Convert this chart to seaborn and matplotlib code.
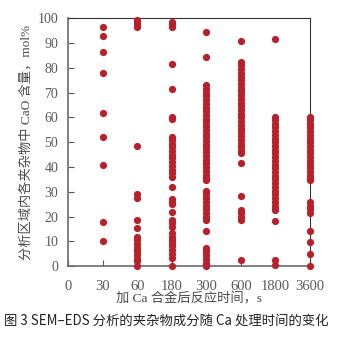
import matplotlib
matplotlib.use("Agg")
import matplotlib.pyplot as plt
import seaborn as sns
import pandas as pd

# CaO content (mol%) of individual inclusions at each reaction time
times = ["0", "30", "60", "180", "300", "600", "1800", "3600"]
cao_30 = [96.5, 93, 86.5, 78, 62, 52, 41, 18, 10]
cao_60 = [99.5, 98.5, 97.5, 96.5, 48.5, 29, 27.5, 18.5, 15.5, 12, 10.5,
          9, 7.5, 6, 4.5, 3, 2, 0]
cao_180 = [98.5, 97.7, 96.6, 81.6, 71.4, 60.3, 59.4, 52.3, 51, 49.5, 48,
           46.5, 45, 43.5, 42, 40.5, 39, 37.5, 36, 32, 27, 26, 25, 22,
           18.7, 17.5, 16, 13.4, 12, 10.6, 9.4, 8, 6.5, 5, 3.3, 0]
cao_300 = [94.6, 84.5, 73, 71.5, 70, 68.5, 67, 65.5, 64, 62.5, 61, 59.5,
           58, 56.5, 55, 53.5, 52, 50.5, 49, 47.5, 46, 44.5, 43, 41.5, 40,
           38.5, 37, 35.5, 34.8, 30.5, 29, 27.5, 26, 24.5, 23, 21.5, 20,
           18.7, 14.4, 7.3, 6, 4.5, 3, 1.5, 0]
cao_600 = [90.7, 82.5, 81, 79.5, 78, 76.5, 75, 73.5, 72, 70.5, 69, 67.5,
           66, 64.5, 63, 61.5, 60, 58.5, 57, 55.5, 54, 52.5, 51, 49.5, 48,
           46.5, 45.5, 41.8, 28.3, 22.7, 21.3, 20, 18.7, 2.5]
cao_1800 = [91.7, 60.3, 59, 57.5, 56, 54.5, 53, 51.5, 50, 48.5, 47, 45.5,
            44, 42.5, 41, 39.5, 38, 36.5, 35, 33.5, 32, 30.5, 29, 27.5, 26,
            24.5, 23, 22.7, 18.4, 2.5, 0.5]
cao_3600 = [60.3, 59, 57.5, 56, 54.5, 53, 51.5, 50, 48.5, 47, 45.5, 44,
            42.5, 41, 39.5, 38, 36.5, 35, 34.8, 26, 24.5, 23, 21.4, 14.4,
            9.9, 5, 0]

series = {"30": cao_30, "60": cao_60, "180": cao_180, "300": cao_300,
          "600": cao_600, "1800": cao_1800, "3600": cao_3600}
df = pd.DataFrame([(t, v) for t, vals in series.items() for v in vals],
                  columns=["time", "cao"])

sns.set_theme(style="white")
plt.rcParams["font.family"] = ["Liberation Serif", "Noto Sans CJK SC", "DejaVu Sans"]

fig = plt.figure(figsize=(3.46, 3.40), dpi=100)
ax = fig.add_axes([0.1965, 0.2168, 0.6995, 0.7294])

sns.stripplot(data=df, x="time", y="cao", order=times, jitter=False,
              color="#b8202a", size=5.2, linewidth=0, ax=ax, zorder=3,
              clip_on=False)

ax.set_xlim(0, 7)
ax.set_ylim(0, 100)
ax.set_yticks(range(0, 101, 10))
ax.set_xticks(range(len(times)))
ax.set_xticklabels(times)

for side in ["left", "bottom"]:
    ax.spines[side].set_color("#6e6a6a")
    ax.spines[side].set_linewidth(1.2)
for side in ["top", "right"]:
    ax.spines[side].set_color("#333333")
    ax.spines[side].set_linewidth(0.8)

ax.tick_params(axis="y", direction="in", length=4, width=0.8, color="#555555",
               labelsize=10, labelcolor="#5a5a5a", pad=7, left=True)
ax.tick_params(axis="x", direction="in", length=4, width=0.8, color="#555555",
               labelsize=10.5, labelcolor="#5a5a5a", pad=10, bottom=True)

ax.set_xlabel("")
ax.set_ylabel("")
fig.text(26 / 346, 1 - 142 / 340, "分析区域内各夹杂物中 CaO 含量，mol%",
         rotation=90, ha="center", va="center", fontsize=9.5, color="#4a4a4a",
         family=["Liberation Serif", "Noto Sans CJK SC"])
fig.text(189 / 346, 1 - 299 / 340, "加 Ca 合金后反应时间，s",
         ha="center", va="center", fontsize=9.5, color="#4a4a4a",
         family=["Liberation Serif", "Noto Sans CJK SC"])
fig.text(4 / 346, 1 - 322 / 340, "图 3 SEM–EDS 分析的夹杂物成分随 Ca 处理时间的变化",
         ha="left", va="center", fontsize=9.6, color="#222222",
         family=["Noto Sans CJK SC", "DejaVu Sans"], weight="medium")

fig.savefig("out.png", dpi=100, facecolor="white")
